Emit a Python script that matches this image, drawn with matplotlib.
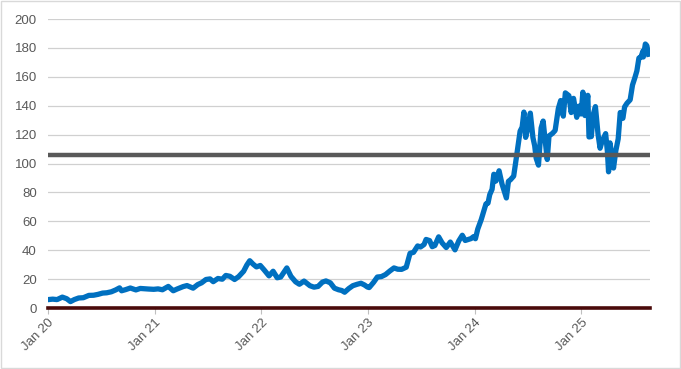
import pandas as pd
import matplotlib.pyplot as plt
import matplotlib.dates as mdates
from matplotlib.patches import Rectangle

# --------------------------------------------------
# Data: share price (split adjusted)
# --------------------------------------------------
dates = [
    # 2020
    "2020-01-02", "2020-01-17", "2020-02-01", "2020-02-19", "2020-03-05", "2020-03-18",
    "2020-03-31", "2020-04-15", "2020-05-01", "2020-05-20", "2020-06-05", "2020-06-20",
    "2020-07-06", "2020-07-20", "2020-08-05", "2020-08-20", "2020-09-02", "2020-09-09",
    "2020-09-23", "2020-10-09", "2020-10-28", "2020-11-12", "2020-11-25", "2020-12-10",
    "2020-12-28",
    # 2021
    "2021-01-12", "2021-01-27", "2021-02-16", "2021-03-05", "2021-03-18", "2021-04-08",
    "2021-04-21", "2021-05-12", "2021-05-28", "2021-06-10", "2021-06-25", "2021-07-09",
    "2021-07-20", "2021-08-05", "2021-08-20", "2021-09-01", "2021-09-15", "2021-10-01",
    "2021-10-15", "2021-11-01", "2021-11-12", "2021-11-22", "2021-12-03", "2021-12-15",
    "2021-12-28",
    # 2022
    "2022-01-10", "2022-01-27", "2022-02-10", "2022-02-24", "2022-03-08", "2022-03-29",
    "2022-04-12", "2022-04-28", "2022-05-11", "2022-05-27", "2022-06-16", "2022-06-30",
    "2022-07-14", "2022-07-29", "2022-08-10", "2022-08-25", "2022-09-08", "2022-09-22",
    "2022-10-03", "2022-10-13", "2022-10-27", "2022-11-10", "2022-11-25", "2022-12-08",
    "2022-12-20", "2022-12-30",
    # 2023
    "2023-01-05", "2023-01-20", "2023-02-02", "2023-02-16", "2023-03-02", "2023-03-17",
    "2023-03-31", "2023-04-13", "2023-04-26", "2023-05-12", "2023-05-25", "2023-06-06",
    "2023-06-20", "2023-06-30", "2023-07-12", "2023-07-19", "2023-07-31", "2023-08-09",
    "2023-08-18", "2023-08-31", "2023-09-12", "2023-09-26", "2023-10-10", "2023-10-26",
    "2023-11-08", "2023-11-20", "2023-11-30", "2023-12-12", "2023-12-20", "2023-12-29",
    # 2024
    "2024-01-04", "2024-01-12", "2024-01-24", "2024-02-05", "2024-02-09", "2024-02-16",
    "2024-02-22", "2024-03-01", "2024-03-07", "2024-03-14", "2024-03-25", "2024-04-04",
    "2024-04-19", "2024-04-26", "2024-05-03", "2024-05-14", "2024-05-23", "2024-06-05",
    "2024-06-12", "2024-06-18", "2024-06-24", "2024-07-01", "2024-07-10", "2024-07-19",
    "2024-07-25", "2024-07-30", "2024-08-07", "2024-08-16", "2024-08-23", "2024-08-29",
    "2024-09-06", "2024-09-12", "2024-09-24", "2024-10-03", "2024-10-14", "2024-10-22",
    "2024-10-31", "2024-11-07", "2024-11-19", "2024-11-27", "2024-12-05", "2024-12-16",
    "2024-12-23", "2024-12-31",
    # 2025
    "2025-01-06", "2025-01-13", "2025-01-23", "2025-01-27", "2025-02-04", "2025-02-10",
    "2025-02-18", "2025-02-27", "2025-03-06", "2025-03-13", "2025-03-25", "2025-03-31",
    "2025-04-04", "2025-04-09", "2025-04-16", "2025-04-21", "2025-04-29", "2025-05-07",
    "2025-05-14", "2025-05-23", "2025-05-29", "2025-06-06", "2025-06-17", "2025-06-25",
    "2025-07-03", "2025-07-10", "2025-07-17", "2025-07-24", "2025-07-31", "2025-08-01",
    "2025-08-08", "2025-08-13", "2025-08-19",
]
price = [
    # 2020
    5.9, 6.2, 5.9, 7.6, 6.5, 4.5,
    5.9, 7.0, 7.2, 8.8, 8.9, 9.5,
    10.4, 10.6, 11.3, 12.6, 14.0, 12.0,
    12.8, 13.9, 12.6, 13.6, 13.4, 13.2,
    13.0,
    # 2021
    13.3, 12.7, 15.0, 12.0, 13.2, 14.9,
    15.6, 13.8, 16.3, 17.5, 19.8, 20.2,
    18.3, 20.5, 20.0, 22.6, 22.0, 19.8,
    21.8, 25.5, 29.8, 32.8, 30.5, 28.5,
    29.5,
    # 2022
    26.5, 22.3, 25.5, 21.0, 21.5, 27.8,
    22.0, 18.2, 16.5, 18.7, 15.5, 14.5,
    15.0, 18.0, 18.8, 17.5, 13.8, 12.7,
    12.2, 11.0, 13.5, 15.5, 16.5, 17.2,
    16.0, 14.6,
    # 2023
    14.2, 17.8, 21.5, 21.8, 23.2, 25.7,
    27.8, 26.9, 26.8, 28.3, 37.9, 38.6,
    43.0, 42.3, 44.0, 47.5, 46.7, 42.5,
    43.3, 49.3, 45.1, 41.9, 45.7, 40.3,
    46.5, 50.4, 46.8, 47.6, 48.1, 49.5,
    # 2024
    48.0, 54.7, 61.3, 69.3, 72.1, 72.6,
    78.5, 82.2, 92.6, 87.9, 95.0, 85.9,
    76.2, 87.7, 88.8, 91.3, 103.8, 122.4,
    125.2, 135.6, 118.1, 124.3, 134.9, 117.9,
    112.3, 103.7, 98.9, 124.6, 129.4, 117.6,
    102.8, 119.1, 120.9, 122.9, 138.1, 143.6,
    132.8, 148.9, 147.0, 135.3, 145.1, 132.0,
    139.7, 134.3,
    # 2025
    149.4, 133.2, 147.2, 118.4, 118.7, 133.6,
    139.4, 120.2, 110.6, 115.6, 120.7, 108.4,
    94.3, 114.3, 104.5, 96.9, 109.0, 117.1,
    135.3, 131.3, 139.2, 141.7, 144.1, 154.3,
    159.3, 164.1, 173.0, 173.7, 177.9, 173.7,
    182.7, 181.6, 175.6,
]
ref_level = 106
y_ticks = [0, 20, 40, 60, 80, 100, 120, 140, 160, 180, 200]

dates = pd.to_datetime(dates)
x_start = pd.Timestamp("2020-01-01")
x_end = pd.Timestamp("2025-08-24")

# --------------------------------------------------
# Plot
# --------------------------------------------------
plt.rcParams["font.family"] = ["Liberation Sans", "DejaVu Sans"]
fig = plt.figure(figsize=(6.81, 3.69), dpi=100)
ax = fig.add_axes([0.0705, 0.165, 0.884, 0.7835])

ax.plot(dates, price, color="#0070C0", lw=3.8, solid_joinstyle="round", zorder=3)
ax.plot([x_start, x_end], [ref_level, ref_level], color="#595959", lw=3.2, zorder=4)
ax.plot([x_start, x_end], [0, 0], color="#4A0A0A", lw=2.6, zorder=5, clip_on=False)

ax.set_xlim(x_start, x_end)
ax.set_ylim(0, 200)
ax.set_yticks(y_ticks)
ax.yaxis.grid(True, color="#D0D0D0", lw=0.9)
ax.set_axisbelow(True)

ax.xaxis.set_major_locator(mdates.MonthLocator(bymonth=1))
ax.xaxis.set_major_formatter(mdates.DateFormatter("%b %y"))
ax.tick_params(axis="x", length=4, color="#BFBFBF", colors="#595959", labelsize=9.5, pad=2)
ax.tick_params(axis="y", length=0, colors="#595959", labelsize=9.5, pad=8)
for lbl in ax.get_xticklabels():
    lbl.set_rotation(45)
    lbl.set_ha("right")
    lbl.set_rotation_mode("anchor")

for s in ax.spines.values():
    s.set_visible(False)

# light frame round the whole chart
fig.patches.append(Rectangle((0.001, 0.002), 0.997, 0.995, transform=fig.transFigure,
                             fill=False, edgecolor="#D9D9D9", lw=1))

fig.savefig("out.png", dpi=100)
